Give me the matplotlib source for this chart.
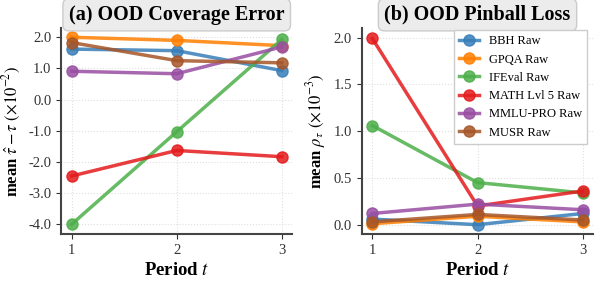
import matplotlib
matplotlib.use("Agg")
import matplotlib.pyplot as plt

plt.rcParams['font.family'] = ['Liberation Serif', 'DejaVu Serif']
plt.rcParams['mathtext.fontset'] = 'stix'
plt.rcParams['axes.unicode_minus'] = False

periods = [1, 2, 3]
names = ["BBH Raw", "GPQA Raw", "IFEval Raw", "MATH Lvl 5 Raw", "MMLU-PRO Raw", "MUSR Raw"]
colors = ["#377eb8", "#ff7f00", "#4daf4a", "#e41a1c", "#984ea3", "#a65628"]

coverage = [
    [1.62, 1.57, 0.93],
    [2.00, 1.90, 1.73],
    [-4.00, -1.03, 1.93],
    [-2.45, -1.63, -1.83],
    [0.91, 0.83, 1.69],
    [1.83, 1.25, 1.18],
]
pinball = [
    [0.06, 0.00, 0.12],
    [0.01, 0.09, 0.03],
    [1.06, 0.45, 0.34],
    [1.99, 0.20, 0.36],
    [0.12, 0.22, 0.16],
    [0.03, 0.11, 0.05],
]

fig, axes = plt.subplots(1, 2, figsize=(5.98, 2.82), dpi=100)
fig.subplots_adjust(left=0.102, right=0.992, bottom=0.17, top=0.9, wspace=0.3)

titles = ["(a) OOD Coverage Error", "(b) OOD Pinball Loss"]
ylabels = [r"mean $\hat{\tau}-\tau$ $(\times 10^{-2})$", r"mean $\rho_\tau$ $(\times 10^{-3})$"]

for ax, data, title, ylab in zip(axes, [coverage, pinball], titles, ylabels):
    for vals, name, c in zip(data, names, colors):
        ax.plot(periods, vals, '-o', color=c, lw=2.5, ms=8, alpha=0.85, label=name)
    ax.set_title(title, fontsize=14.5, fontweight='bold', pad=6,
                 bbox=dict(boxstyle='round,pad=0.3', fc='#ececec', ec='#cccccc'))
    ax.set_xlabel(r"Period $t$", fontsize=13.5, fontweight='bold')
    ax.set_ylabel(ylab, fontsize=12, fontweight='bold')
    ax.set_xticks(periods)
    ax.set_xlim(0.9, 3.1)
    ax.grid(True, linestyle=':', color='#e0e0e0', lw=0.8)
    for s in ['top', 'right']:
        ax.spines[s].set_visible(False)
    for s in ['left', 'bottom']:
        ax.spines[s].set_color('#444444')
        ax.spines[s].set_linewidth(1.5)
    ax.tick_params(labelsize=10.5, colors='#333333')

axes[0].set_ylim(-4.31, 2.29)
axes[0].set_yticks([-4, -3, -2, -1, 0, 1, 2])
axes[0].yaxis.set_major_formatter(matplotlib.ticker.FormatStrFormatter('%.1f'))
axes[1].set_ylim(-0.1, 2.1)
axes[1].set_yticks([0, 0.5, 1.0, 1.5, 2.0])
axes[1].yaxis.set_major_formatter(matplotlib.ticker.FormatStrFormatter('%.1f'))
axes[1].legend(loc='upper right', bbox_to_anchor=(1.0, 1.02), fontsize=9,
               handlelength=1.6, fancybox=False, edgecolor='#cccccc', framealpha=1)

plt.savefig("out.png")
